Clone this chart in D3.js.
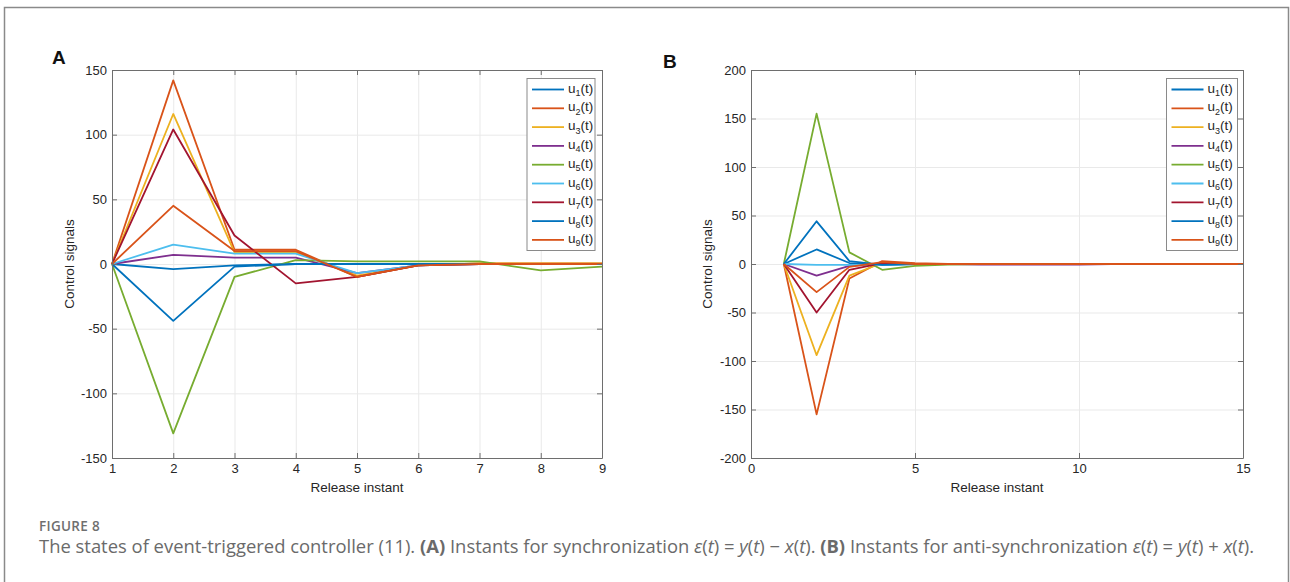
<!DOCTYPE html>
<html>
<head>
<meta charset="utf-8">
<title>Figure 8 - event-triggered controller states</title>
<style>
  body { margin: 0; padding: 0; background: #fff; }
  svg { display: block; }
  .frame .domain, .frame .tick line { stroke: #6e6e6e; }
  .frame .tick text { fill: #262626; }
  .grid .domain { display: none; }
  .grid .tick line { stroke: #e9e9e9; }
  .lbl { font-family: "Liberation Sans", Arial, sans-serif; font-size: 13.5px; fill: #262626; }
</style>
</head>
<body>
<svg id="fig" width="1290" height="582"></svg>
<script src="https://d3js.org/d3.v7.min.js"></script>
<script>
// series names and colours (MATLAB default order)
const seriesNames = ["1", "2", "3", "4", "5", "6", "7", "8", "9"];
const seriesColors = ["#0072BD", "#D95319", "#EDB120", "#7E2F8E", "#77AC30", "#4DBEEE", "#A2142F", "#0072BD", "#D95319"];

// panel A : synchronization, release instants 1..9
const xA = [1, 2, 3, 4, 5, 6, 7, 8, 9];
const a_u1 = [0, -4, -1, 0, 0, 0, 0, 0, 0];
const a_u2 = [0, 142, 11, 11, -10, -1, 0.5, 0.5, 0.5];
const a_u3 = [0, 116, 9, 9, -9, -1, 0.5, 0.5, 0.5];
const a_u4 = [0, 7, 5, 5, -7, -1, 0, 0, 0];
const a_u5 = [0, -131, -10, 3, 2, 2, 2, -5, -2];
const a_u6 = [0, 15, 8, 8, -7, -1, 0, 0, 0];
const a_u7 = [0, 104, 22, -15, -10, -1, 0, 0, 0];
const a_u8 = [0, -44, -2, 0, 0, 0, 0, 0, 0];
const a_u9 = [0, 45, 10, 10, -10, -1, 0, 0, 0];

// panel B : anti-synchronization, release instants 1..15
const xB = [1, 2, 3, 4, 5, 6, 7, 8, 9, 10, 11, 12, 13, 14, 15];
const b_u1 = [0, 15, 1, -1, 0, 0, 0, 0, 0, 0, 0, 0, 0, 0, 0];
const b_u2 = [0, -155, -15, 3, 1, 0, 0, 0, 0, 0, 0, 0, 0, 0, 0];
const b_u3 = [0, -94, -12, 1, 0, 0, 0, 0, 0, 0, 0, 0, 0, 0, 0];
const b_u4 = [0, -12, -2, 0, 0, 0, -0.5, -0.5, -0.5, -0.5, 0, 0, 0, 0, 0];
const b_u5 = [0, 155, 12, -6, -2, -0.5, 0, 0, 0, 0, 0, 0, 0, 0, 0];
const b_u6 = [0, -1, -1, -1, 0, 0, 0, 0, 0, 0, 0, 0, 0, 0, 0];
const b_u7 = [0, -50, -6, 1, 0, 0, 0, 0, 0, 0, 0, 0, 0, 0, 0];
const b_u8 = [0, 44, 3, -1, 0, 0, 0, 0, 0, 0, 0, 0, 0, 0, 0];
const b_u9 = [0, -29, -3, 2, 0, 0, 0, 0, 0, 0, 0, 0, 0, 0, 0];

// tick values
const xTicksA = [1, 2, 3, 4, 5, 6, 7, 8, 9];
const yTicksA = [-150, -100, -50, 0, 50, 100, 150];
const xTicksB = [0, 5, 10, 15];
const yTicksB = [-200, -150, -100, -50, 0, 50, 100, 150, 200];

const svg = d3.select("#fig");
svg.append("rect").attr("width", 1290).attr("height", 582).attr("fill", "#fff");

// outer frame of the figure
svg.append("path")
  .attr("d", "M4.5,590 V7.5 H1288.5 V590")
  .attr("fill", "none").attr("stroke", "#8a8a8a").attr("stroke-width", 1.5);

const plainNum = d => String(d); // hyphen minus like the original

function styleTicks(sel) {
  sel.attr("font-family", "Liberation Sans, Arial, sans-serif").attr("font-size", 13);
}

function drawPanel(p) {
  const x = d3.scaleLinear().domain(p.xDomain).range([p.left, p.right]);
  const y = d3.scaleLinear().domain(p.yDomain).range([p.bottom, p.top]);
  const w = p.right - p.left, h = p.bottom - p.top;
  const g = svg.append("g");

  // grid
  g.append("g").attr("class", "grid")
    .attr("transform", `translate(0,${p.bottom})`)
    .call(d3.axisBottom(x).tickValues(p.xTicks).tickSize(-h).tickFormat(""));
  g.append("g").attr("class", "grid")
    .attr("transform", `translate(${p.left},0)`)
    .call(d3.axisLeft(y).tickValues(p.yTicks).tickSize(-w).tickFormat(""));

  // lines
  const line = d3.line().x((d, i) => x(p.xs[i])).y(d => y(d));
  p.series.forEach((s, i) => {
    g.append("path")
      .datum(s)
      .attr("fill", "none")
      .attr("stroke", seriesColors[i])
      .attr("stroke-width", 1.8)
      .attr("stroke-linejoin", "round")
      .attr("d", line);
  });

  // box with inward ticks
  g.append("g").attr("class", "frame")
    .attr("transform", `translate(0,${p.bottom})`)
    .call(d3.axisBottom(x).tickValues(p.xTicks).tickFormat(plainNum).tickSize(-5).tickPadding(6).tickSizeOuter(0))
    .call(styleTicks);
  g.append("g").attr("class", "frame")
    .attr("transform", `translate(0,${p.top})`)
    .call(d3.axisTop(x).tickValues(p.xTicks).tickSize(-5).tickFormat("").tickSizeOuter(0));
  g.append("g").attr("class", "frame")
    .attr("transform", `translate(${p.left},0)`)
    .call(d3.axisLeft(y).tickValues(p.yTicks).tickFormat(plainNum).tickSize(-5).tickPadding(5).tickSizeOuter(0))
    .call(styleTicks);
  g.append("g").attr("class", "frame")
    .attr("transform", `translate(${p.right},0)`)
    .call(d3.axisRight(y).tickValues(p.yTicks).tickSize(-5).tickFormat("").tickSizeOuter(0));

  // axis labels
  g.append("text").attr("class", "lbl")
    .attr("x", (p.left + p.right) / 2).attr("y", 492)
    .attr("text-anchor", "middle").text("Release instant");
  g.append("text").attr("class", "lbl")
    .attr("transform", `translate(${p.yLabelX},${(p.top + p.bottom) / 2}) rotate(-90)`)
    .attr("text-anchor", "middle").text("Control signals");

  // panel letter
  g.append("text")
    .attr("x", p.letterX).attr("y", p.letterY)
    .attr("font-family", "Liberation Sans, Arial, sans-serif")
    .attr("font-weight", "bold").attr("font-size", 19)
    .attr("fill", "#111").text(p.letter);

  // legend
  const lg = g.append("g");
  lg.append("rect")
    .attr("x", p.legX).attr("y", 78.5)
    .attr("width", p.legW).attr("height", 172)
    .attr("fill", "#fff").attr("stroke", "#8a8a8a").attr("stroke-width", 1);
  seriesNames.forEach((n, i) => {
    const yy = 89.5 + i * 18.8;
    lg.append("line")
      .attr("x1", p.legX + 5).attr("x2", p.legX + 37)
      .attr("y1", yy).attr("y2", yy)
      .attr("stroke", seriesColors[i]).attr("stroke-width", 1.8);
    const t = lg.append("text").attr("class", "lbl")
      .attr("x", p.legX + 41).attr("y", yy + 3).attr("font-size", 12);
    t.append("tspan").text("u");
    t.append("tspan").attr("dy", 3.5).attr("font-size", 9).text(n);
    t.append("tspan").attr("dy", -3.5).text("(t)");
  });
}

drawPanel({
  xs: xA, series: [a_u1, a_u2, a_u3, a_u4, a_u5, a_u6, a_u7, a_u8, a_u9],
  xDomain: [1, 9], yDomain: [-150, 150], xTicks: xTicksA, yTicks: yTicksA,
  left: 112, right: 602, top: 70, bottom: 458,
  yLabelX: 74, letter: "A", letterX: 52, letterY: 64, legX: 527, legW: 68
});

drawPanel({
  xs: xB, series: [b_u1, b_u2, b_u3, b_u4, b_u5, b_u6, b_u7, b_u8, b_u9],
  xDomain: [0, 15], yDomain: [-200, 200], xTicks: xTicksB, yTicks: yTicksB,
  left: 751, right: 1243, top: 70, bottom: 458,
  yLabelX: 712, letter: "B", letterX: 663, letterY: 68, legX: 1166.5, legW: 71
});

// caption
svg.append("text")
  .attr("x", 39).attr("y", 531)
  .attr("font-family", "Open Sans, sans-serif").attr("font-weight", 600)
  .attr("font-size", 13.5).attr("fill", "#6f6f6f").attr("letter-spacing", 0.3)
  .text("FIGURE 8");

const cap = svg.append("text")
  .attr("x", 39).attr("y", 553)
  .attr("font-family", "Open Sans, sans-serif")
  .attr("font-size", 16).attr("fill", "#6a6a6a");
const capParts = [
  ["The states of event-triggered controller (11). ", "normal", "normal"],
  ["(A)", "bold", "normal"],
  [" Instants for synchronization ", "normal", "normal"],
  ["ε", "normal", "italic"], ["(", "normal", "normal"], ["t", "normal", "italic"], [") = ", "normal", "normal"],
  ["y", "normal", "italic"], ["(", "normal", "normal"], ["t", "normal", "italic"], [") − ", "normal", "normal"],
  ["x", "normal", "italic"], ["(", "normal", "normal"], ["t", "normal", "italic"], ["). ", "normal", "normal"],
  ["(B)", "bold", "normal"],
  [" Instants for anti-synchronization ", "normal", "normal"],
  ["ε", "normal", "italic"], ["(", "normal", "normal"], ["t", "normal", "italic"], [") = ", "normal", "normal"],
  ["y", "normal", "italic"], ["(", "normal", "normal"], ["t", "normal", "italic"], [") + ", "normal", "normal"],
  ["x", "normal", "italic"], ["(", "normal", "normal"], ["t", "normal", "italic"], [").", "normal", "normal"]
];
capParts.forEach(([txt, wt, st]) => {
  cap.append("tspan").attr("font-weight", wt).attr("font-style", st)
    .attr("xml:space", "preserve").style("white-space", "pre").text(txt);
});
// fit caption to the width seen in the figure
const capLen = cap.node().getComputedTextLength();
cap.attr("font-size", 16 * 1216 / capLen);
</script>
</body>
</html>
